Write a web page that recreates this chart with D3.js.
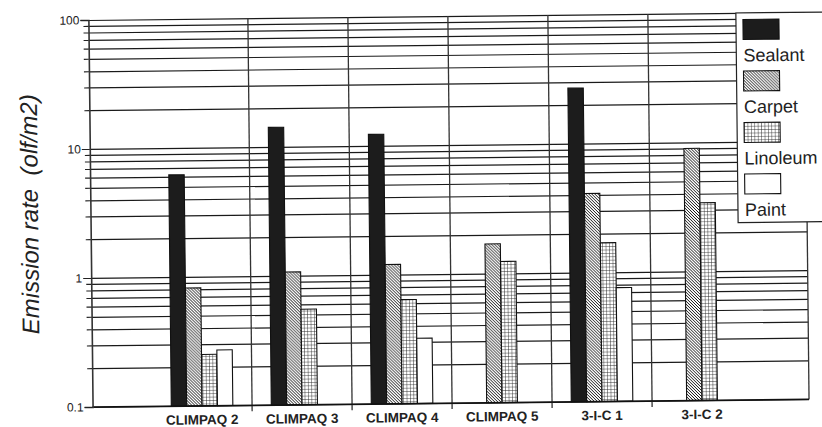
<!DOCTYPE html>
<html>
<head>
<meta charset="utf-8">
<script src="https://cdn.jsdelivr.net/npm/d3@7"></script>
<style>
  html, body { margin: 0; padding: 0; background: #fff; }
  svg { display: block; }
  text { font-family: "Liberation Sans", Arial, Helvetica, sans-serif; fill: #222; }
</style>
</head>
<body>
<svg id="chart" width="822" height="427"></svg>
<script>
// Emission rates by test chamber and material (olf/m2)
const categories = ["CLIMPAQ 2", "CLIMPAQ 3", "CLIMPAQ 4", "CLIMPAQ 5", "3-I-C 1", "3-I-C 2"];
const seriesNames = ["Sealant", "Carpet", "Linoleum", "Paint"];
const sealant  = [6.2, 14.2, 12.3, null, 27, null];
const carpet   = [0.82, 1.07, 1.2, 1.7, 4.1, 9.0];
const linoleum = [0.25, 0.55, 0.64, 1.24, 1.7, 3.4];
const paint    = [0.27, null, 0.32, null, 0.76, null];
const yTickValues = [0.1, 1, 10, 100];
const yTickLabels = ["0.1", "1", "10", "100"];
const yTitle = "Emission rate  (olf/m2)";

const seriesValues = [sealant, carpet, linoleum, paint];

const axisX = 90.5, gridRight = 807, plotTop = 16.4, plotBottom = 403.4;
const bandLeft = 150, bandRight = 750;

const svg = d3.select("#chart");
const defs = svg.append("defs");

// fill patterns: diagonal hatch for carpet, square grid for linoleum
const hatch = defs.append("pattern").attr("id", "pat-carpet")
  .attr("patternUnits", "userSpaceOnUse").attr("width", 3).attr("height", 3);
hatch.append("rect").attr("width", 3).attr("height", 3).attr("fill", "#fff");
hatch.append("path").attr("d", "M-1,-1L4,4M-1,2L1,4M2,-1L4,1")
  .attr("stroke", "#111").attr("stroke-width", 1);

const grid = defs.append("pattern").attr("id", "pat-lino")
  .attr("patternUnits", "userSpaceOnUse").attr("width", 3.4).attr("height", 3.4);
grid.append("rect").attr("width", 3.4).attr("height", 3.4).attr("fill", "#fff");
grid.append("path").attr("d", "M0,0H3.4M0,0V3.4")
  .attr("stroke", "#222").attr("stroke-width", 0.9);

const fills = {
  "Sealant": "#1c1c1c",
  "Carpet": "url(#pat-carpet)",
  "Linoleum": "url(#pat-lino)",
  "Paint": "#fff"
};

// the whole figure sits on a very slight tilt
const g = svg.append("g").attr("transform", "rotate(-0.62, 420, 213)");

const y = d3.scaleLog().domain([0.1, 100]).range([plotBottom, plotTop]);
const x0 = d3.scaleBand().domain(categories).range([bandLeft, bandRight]);
const x1 = d3.scaleBand().domain(seriesNames).range([0, x0.bandwidth()]).paddingOuter(1.25);

const allTicks = y.ticks();

// horizontal grid lines at every log step
g.append("g")
  .attr("transform", `translate(${axisX},0)`)
  .call(d3.axisRight(y).tickValues(allTicks).tickSize(gridRight - axisX).tickFormat(""))
  .call(s => s.select(".domain").remove())
  .call(s => s.selectAll("line").attr("stroke", "#1a1a1a").attr("stroke-width", 1.2));

// separators between chamber groups, running a little below the baseline
const seps = categories.slice(1).map(c => x0(c));
g.append("g").selectAll("line").data(seps).join("line")
  .attr("x1", d => d).attr("x2", d => d)
  .attr("y1", plotTop).attr("y2", plotBottom + 6)
  .attr("stroke", "#333").attr("stroke-width", 1.3);

// right frame edge
g.append("line")
  .attr("x1", gridRight).attr("x2", gridRight)
  .attr("y1", plotTop).attr("y2", plotBottom)
  .attr("stroke", "#333").attr("stroke-width", 1.3);

// bars
const barData = [];
categories.forEach((c, i) => {
  seriesNames.forEach((s, j) => {
    const v = seriesValues[j][i];
    if (v != null) barData.push({ c, s, v });
  });
});
g.append("g").selectAll("rect").data(barData).join("rect")
  .attr("x", d => x0(d.c) + x1(d.s))
  .attr("width", x1.bandwidth())
  .attr("y", d => y(d.v))
  .attr("height", d => y(0.1) - y(d.v))
  .attr("fill", d => fills[d.s])
  .attr("stroke", "#111").attr("stroke-width", 1.1);

// bottom axis line
g.append("line")
  .attr("x1", axisX).attr("x2", gridRight)
  .attr("y1", y(0.1)).attr("y2", y(0.1))
  .attr("stroke", "#111").attr("stroke-width", 1.4);

// left axis: short ticks on every step, labels on decades
g.append("g")
  .attr("transform", `translate(${axisX},0)`)
  .call(d3.axisLeft(y).tickValues(allTicks.filter(v => !yTickValues.includes(v))).tickSize(5).tickFormat(""))
  .call(s => s.select(".domain").remove())
  .call(s => s.selectAll("line").attr("stroke", "#222").attr("stroke-width", 1.1));

g.append("g")
  .attr("transform", `translate(${axisX},0)`)
  .call(d3.axisLeft(y).tickValues(yTickValues).tickSize(8).tickPadding(1)
    .tickFormat((d, i) => yTickLabels[i]))
  .call(s => s.select(".domain").attr("stroke", "#333").attr("stroke-width", 1.6))
  .call(s => s.selectAll("line").attr("stroke", "#222").attr("stroke-width", 1.1))
  .call(s => s.selectAll("text").attr("font-size", 12).attr("fill", "#333")
    .style("font-family", '"Liberation Sans", Arial, sans-serif'));

// category labels
g.append("g").selectAll("text").data(categories).join("text")
  .attr("x", d => x0(d) + x0.bandwidth() / 2)
  .attr("y", 422)
  .attr("text-anchor", "middle")
  .attr("font-size", 13.5)
  .attr("font-weight", "bold")
  .attr("fill", "#222")
  .text(d => d);

// y-axis title
g.append("text")
  .attr("transform", `translate(38, 210) rotate(-90)`)
  .attr("text-anchor", "middle")
  .attr("font-size", 24)
  .attr("font-style", "italic")
  .attr("fill", "#2a2a2a")
  .style("white-space", "pre")
  .text(yTitle);

// legend box overlapping the upper right of the plot
const legend = g.append("g");
legend.append("rect")
  .attr("x", 738).attr("y", plotTop)
  .attr("width", 120).attr("height", 226 - plotTop)
  .attr("fill", "#fff").attr("stroke", "#222").attr("stroke-width", 1.2);

const item = legend.selectAll("g.item").data(seriesNames).join("g")
  .attr("class", "item")
  .attr("transform", (d, i) => `translate(745, ${23 + i * 51.5})`);
item.append("rect")
  .attr("width", 36).attr("height", 20)
  .attr("fill", d => fills[d])
  .attr("stroke", "#111").attr("stroke-width", 1.1);
item.append("text")
  .attr("x", 0).attr("y", 42)
  .attr("font-size", 18)
  .attr("fill", "#333")
  .text(d => d);
</script>
</body>
</html>
